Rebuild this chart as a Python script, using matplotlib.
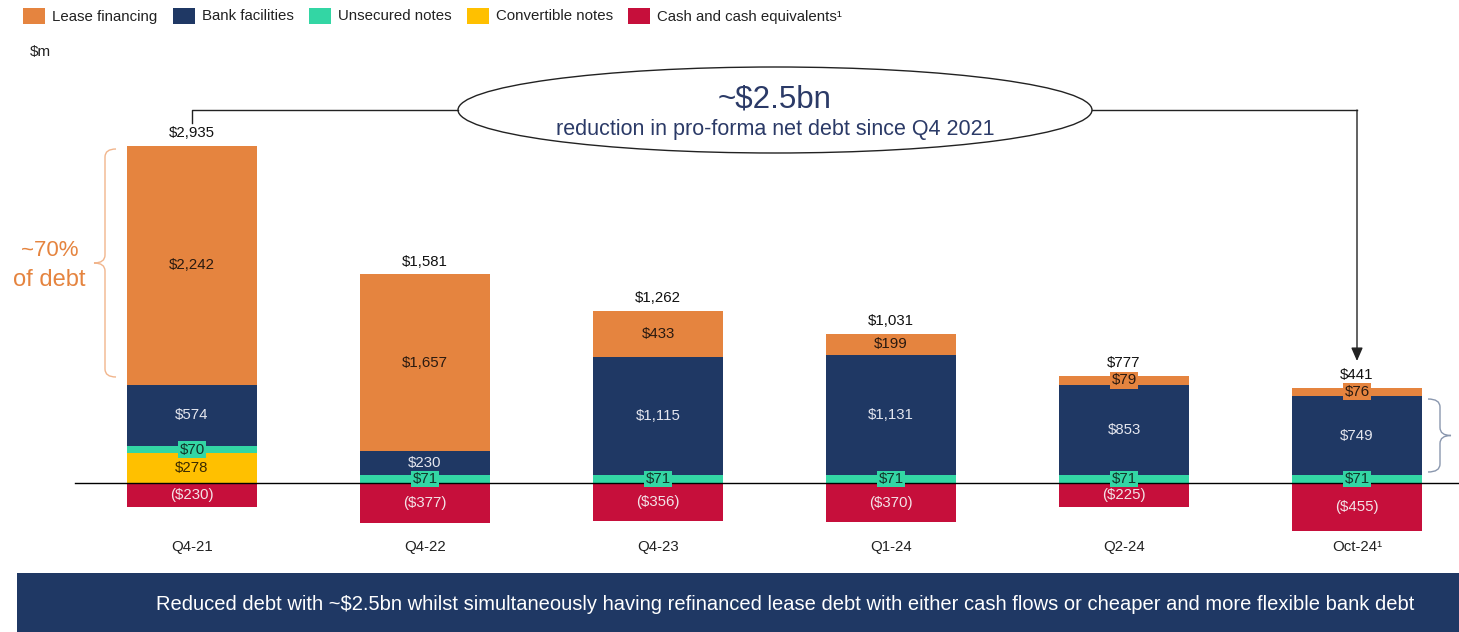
import matplotlib
matplotlib.use("Agg")
import matplotlib.pyplot as plt
from matplotlib.patches import Ellipse, Rectangle, PathPatch
from matplotlib.path import Path
import numpy as np

plt.rcParams['font.family'] = ['Liberation Sans', 'DejaVu Sans']

# ---- data ($m) ----
categories = ["Q4-21", "Q4-22", "Q4-23", "Q1-24", "Q2-24", "Oct-24\u00b9"]
convertible = [278, 0, 0, 0, 0, 0]
unsecured = [70, 71, 71, 71, 71, 71]
bank = [574, 230, 1115, 1131, 853, 749]
lease = [2242, 1657, 433, 199, 79, 76]
cash = [-230, -377, -356, -370, -225, -455]
net_debt = [2935, 1581, 1262, 1031, 777, 441]

series_names = ["Lease financing", "Bank facilities", "Unsecured notes",
                "Convertible notes", "Cash and cash equivalents\u00b9"]

C_LEASE = "#E5843F"
C_BANK = "#1F3864"
C_UNSEC = "#33D6A4"
C_CONV = "#FFC000"
C_CASH = "#C60F3B"
series_colors = [C_LEASE, C_BANK, C_UNSEC, C_CONV, C_CASH]

W, H = 1459, 632
fig = plt.figure(figsize=(W / 100, H / 100), dpi=100)
fig.patch.set_facecolor("white")

# data axes: category step 233 px, 0.10651 px per $m, zero at y=483 px
x0_px, step_px = 192, 233
zero_px, scale = 483, 0.10651
ax = fig.add_axes([0, 0, 1, 1])
ax.set_xlim(-x0_px / step_px, (W - x0_px) / step_px)
ax.set_ylim(-(H - zero_px) / scale, zero_px / scale)
ax.axis("off")

# overlay in pixel coordinates for annotations
ov = fig.add_axes([0, 0, 1, 1], zorder=5)
ov.set_xlim(0, W)
ov.set_ylim(H, 0)
ov.axis("off")
ov.patch.set_alpha(0)

x = np.arange(len(categories))
bw = 130 / step_px

conv = np.array(convertible)
uns = np.array(unsecured)
bk = np.array(bank)
ls = np.array(lease)
cs = np.array(cash)

b_conv = np.zeros(len(x))
b_uns = b_conv + conv
b_bank = b_uns + uns
b_lease = b_bank + bk

ax.bar(x, conv, bw, bottom=b_conv, color=C_CONV, zorder=2)
ax.bar(x, uns, bw, bottom=b_uns, color=C_UNSEC, zorder=2)
ax.bar(x, bk, bw, bottom=b_bank, color=C_BANK, zorder=2)
ax.bar(x, ls, bw, bottom=b_lease, color=C_LEASE, zorder=2)
ax.bar(x, cs, bw, bottom=0, color=C_CASH, zorder=2)

ax.plot([(75 - x0_px) / step_px, (W - x0_px) / step_px], [0, 0],
        color="black", lw=1.0, zorder=3)

FS = 10.8
def money(v):
    return f"(${abs(v):,})" if v < 0 else f"${v:,}"

def boxed(color):
    return dict(boxstyle="square,pad=0.08", fc=color, ec="none")

for i in range(len(x)):
    # lease
    if ls[i] > 0:
        small = ls[i] < 150
        ax.text(x[i], b_lease[i] + ls[i] / 2, money(ls[i]), ha="center", va="center",
                fontsize=FS, color="#2a1a10", zorder=4,
                bbox=boxed(C_LEASE) if small else None)
    ax.text(x[i], b_bank[i] + bk[i] / 2, money(bk[i]), ha="center", va="center",
            fontsize=FS, color="#E4E6EE", zorder=4)
    ax.text(x[i], b_uns[i] + uns[i] / 2, money(uns[i]), ha="center", va="center",
            fontsize=FS, color="#12352a", zorder=4, bbox=boxed(C_UNSEC))
    if conv[i] > 0:
        ax.text(x[i], conv[i] / 2, money(conv[i]), ha="center", va="center",
                fontsize=FS, color="#3a2a00", zorder=4)
    ax.text(x[i], cs[i] / 2, money(cs[i]), ha="center", va="center",
            fontsize=FS, color="#F3E3E7", zorder=4)
    top = b_lease[i] + ls[i]
    ax.text(x[i], top + 55, money(net_debt[i]), ha="center", va="bottom",
            fontsize=FS, color="#111111", zorder=4)
    ax.text(x[i], -(547 - zero_px) / scale, categories[i], ha="center", va="center",
            fontsize=FS, color="#222222")

# legend row
leg_sq_x = [23, 173, 309, 467, 628]
for sx, name, col in zip(leg_sq_x, series_names, series_colors):
    ov.add_patch(Rectangle((sx, 8), 22, 16, fc=col, ec="none"))
    ov.text(sx + 29, 16.5, name, ha="left", va="center", fontsize=10.8, color="#222222")

ov.text(30, 52, "$m", ha="left", va="center", fontsize=11, color="#222222")

# callout ellipse with connectors
ov.add_patch(Ellipse((775, 110), 634, 86, fc="white", ec="#222222", lw=1.0))
ov.text(775, 99, "~$2.5bn", ha="center", va="center", fontsize=22.5, color="#2B3A67")
ov.text(775, 130, "reduction in pro-forma net debt since Q4 2021", ha="center",
        va="center", fontsize=15.5, color="#2B3A67")
ov.plot([458, x0_px, x0_px], [110, 110, 123], color="#222222", lw=1.0)
ov.plot([1092, x0_px + 5 * step_px], [110, 110], color="#222222", lw=1.0)
ov.annotate("", xy=(x0_px + 5 * step_px, 361), xytext=(x0_px + 5 * step_px, 110),
            arrowprops=dict(arrowstyle="-|>,head_length=0.8,head_width=0.35",
                            color="#222222", lw=1.0, shrinkA=0, shrinkB=0))

# curly braces
def brace(ax_, x_tip, x_spine, x_cusp, y_top, y_bot, color, lw=1.0):
    y_mid = (y_top + y_bot) / 2
    r = 8
    verts = [(x_tip, y_top), (x_spine, y_top), (x_spine, y_top + r),
             (x_spine, y_mid - r), (x_spine, y_mid), (x_cusp, y_mid),
             (x_spine, y_mid), (x_spine, y_mid + r),
             (x_spine, y_bot - r), (x_spine, y_bot), (x_tip, y_bot)]
    codes = [Path.MOVETO, Path.CURVE3, Path.CURVE3,
             Path.LINETO, Path.CURVE3, Path.CURVE3,
             Path.CURVE3, Path.CURVE3,
             Path.LINETO, Path.CURVE3, Path.CURVE3]
    ax_.add_patch(PathPatch(Path(verts, codes), fc="none", ec=color, lw=lw))

brace(ov, 116, 105, 94, 149, 377, "#F1B58C")
ov.text(50, 251, "~70%", ha="center", va="center", fontsize=16, color=C_LEASE)
ov.text(49, 280, "of debt", ha="center", va="center", fontsize=17, color=C_LEASE)

brace(ov, 1428, 1440, 1451, 399, 472, "#8A97AE")

# bottom banner
ov.add_patch(Rectangle((17, 573), W - 17, H - 573, fc=C_BANK, ec="none"))
ov.text(785, 605, "Reduced debt with ~$2.5bn whilst simultaneously having refinanced lease "
        "debt with either cash flows or cheaper and more flexible bank debt",
        ha="center", va="center", fontsize=14.5, color="white")

fig.savefig("out.png", dpi=100, facecolor="white")
